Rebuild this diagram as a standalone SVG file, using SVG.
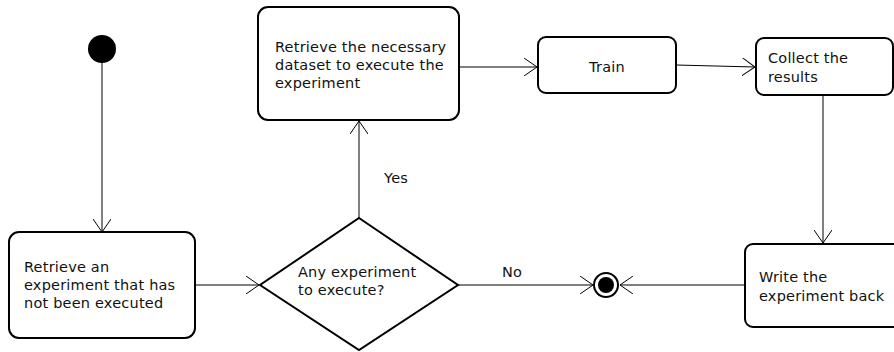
<svg xmlns="http://www.w3.org/2000/svg" width="894" height="352" viewBox="0 0 894 352">
  <defs>
    <marker id="open" viewBox="0 0 14 18" refX="13" refY="9" markerWidth="14" markerHeight="18" markerUnits="userSpaceOnUse" orient="auto">
      <path d="M0,0 L13,9 L0,18" fill="none" stroke="#000" stroke-width="1"/>
    </marker>
  </defs>
  <style>
    .box { fill: #fff; stroke: #000; stroke-width: 2; }
    .edge { fill: none; stroke: #000; stroke-width: 1; marker-end: url(#open); }
    text { font-family: "DejaVu Sans", Verdana, sans-serif; font-size: 14.5px; letter-spacing: 0.2px; fill: #111; }
  </style>
  <rect width="894" height="352" fill="#fff"/>

  <g id="connectors">
    <line class="edge" x1="102" y1="62" x2="102" y2="232"/>
    <line class="edge" x1="195" y1="285" x2="259" y2="285"/>
    <line class="edge" x1="359" y1="218" x2="359" y2="121"/>
    <line class="edge" x1="458" y1="285" x2="593" y2="285"/>
    <line class="edge" x1="745" y1="285" x2="620" y2="285"/>
    <line class="edge" x1="459" y1="67" x2="537" y2="67"/>
    <line class="edge" x1="676" y1="65" x2="755" y2="67"/>
    <line class="edge" x1="823" y1="95" x2="823" y2="243"/>
    <text x="384" y="183">Yes</text>
    <text x="502" y="277">No</text>
  </g>

  <g id="start">
    <circle cx="102" cy="49" r="14" fill="#000"/>
  </g>

  <g id="retrieve-experiment">
    <rect class="box" x="9" y="232" width="186" height="106" rx="10"/>
    <text x="24" y="272">Retrieve an</text>
    <text x="24" y="290">experiment that has</text>
    <text x="24" y="308">not been executed</text>
  </g>

  <g id="decision">
    <polygon class="box" points="359,218 458,285 359,350 260,285"/>
    <text x="298" y="277">Any experiment</text>
    <text x="298" y="295">to execute?</text>
  </g>

  <g id="retrieve-dataset">
    <rect class="box" x="258" y="7" width="201" height="113" rx="10"/>
    <text x="275" y="52">Retrieve the necessary</text>
    <text x="275" y="70">dataset to execute the</text>
    <text x="275" y="88">experiment</text>
  </g>

  <g id="train">
    <rect class="box" x="538" y="37" width="138" height="56" rx="8"/>
    <text x="607" y="72" text-anchor="middle">Train</text>
  </g>

  <g id="collect">
    <rect class="box" x="756" y="38" width="137" height="57" rx="8"/>
    <text x="768" y="63">Collect the</text>
    <text x="768" y="82">results</text>
  </g>

  <g id="write-back">
    <rect class="box" x="745" y="244" width="160" height="83" rx="8"/>
    <text x="759" y="282">Write the</text>
    <text x="759" y="301">experiment back</text>
  </g>

  <g id="end">
    <circle cx="606" cy="285" r="12" fill="#fff" stroke="#000" stroke-width="2"/>
    <circle cx="606" cy="285" r="8" fill="#000"/>
  </g>
</svg>
